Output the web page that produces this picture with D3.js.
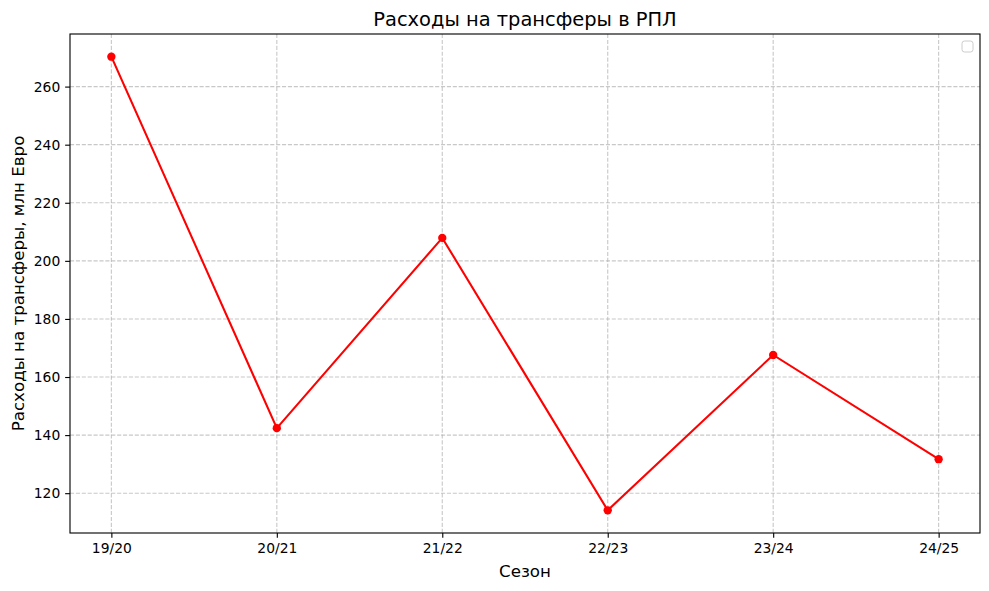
<!DOCTYPE html>
<html>
<head>
<meta charset="utf-8">
<script src="https://cdn.jsdelivr.net/npm/d3@7"></script>
<style>
body { margin: 0; background: #fff; }
text { font-family: "DejaVu Sans", sans-serif; }
</style>
</head>
<body>
<div id="vis-container"></div>
<script>
// data
var seasons = ["19/20", "20/21", "21/22", "22/23", "23/24", "24/25"];
var spending = [270.3, 142.4, 207.9, 114.1, 167.6, 131.7];
var yTicks = [120, 140, 160, 180, 200, 220, 240, 260];

var width = 989, height = 591;
var margin = { left: 70, top: 34, right: 9, bottom: 58 };
var plotW = width - margin.left - margin.right;
var plotH = height - margin.top - margin.bottom;
var pt = 100 / 72; // points to pixels

var svg = d3.select("#vis-container")
	.append("svg")
	.attr("width", width)
	.attr("height", height)
	.style("background-color", "#ffffff");

var plot = svg.append("g")
	.attr("transform", "translate(" + margin.left + "," + margin.top + ")");

// 5% margins like matplotlib
var x = d3.scaleLinear().domain([-0.25, seasons.length - 1 + 0.25]).range([0, plotW]);
var ymin = d3.min(spending), ymax = d3.max(spending);
var pad = (ymax - ymin) * 0.05;
var y = d3.scaleLinear().domain([ymin - pad, ymax + pad]).range([plotH, 0]);

// grid
var dash = (3.7 * 0.8 * pt) + "," + (1.6 * 0.8 * pt);
plot.append("g").selectAll("line").data(yTicks).enter().append("line")
	.attr("x1", 0).attr("x2", plotW)
	.attr("y1", function(d) { return y(d); })
	.attr("y2", function(d) { return y(d); })
	.attr("stroke", "#b0b0b0").attr("stroke-opacity", 0.7)
	.attr("stroke-dasharray", dash).attr("stroke-width", 0.8 * pt);

plot.append("g").selectAll("line").data(seasons).enter().append("line")
	.attr("y1", 0).attr("y2", plotH)
	.attr("x1", function(d, i) { return x(i); })
	.attr("x2", function(d, i) { return x(i); })
	.attr("stroke", "#b0b0b0").attr("stroke-opacity", 0.7)
	.attr("stroke-dasharray", dash).attr("stroke-width", 0.8 * pt);

// axes
var yaxis = d3.axisLeft(y).tickValues(yTicks).tickSize(3.5 * pt).tickPadding(3.5 * pt);
var yg = plot.append("g").call(yaxis);
yg.select(".domain").remove();
yg.selectAll("text").attr("font-size", 10 * pt).attr("fill", "#000");
yg.selectAll("line").attr("stroke", "#000").attr("stroke-width", 0.8 * pt);

var xaxis = d3.axisBottom(x).tickValues(d3.range(seasons.length))
	.tickFormat(function(d) { return seasons[d]; }).tickSize(3.5 * pt).tickPadding(3.5 * pt);
var xg = plot.append("g").attr("transform", "translate(0," + plotH + ")").call(xaxis);
xg.select(".domain").remove();
xg.selectAll("text").attr("font-size", 10 * pt).attr("fill", "#000");
xg.selectAll("line").attr("stroke", "#000").attr("stroke-width", 0.8 * pt);

// frame
plot.append("rect")
	.attr("width", plotW).attr("height", plotH)
	.attr("fill", "none").attr("stroke", "#000").attr("stroke-width", 0.8 * pt);

// line and markers
var line = d3.line()
	.x(function(d, i) { return x(i); })
	.y(function(d) { return y(d); });

plot.append("path")
	.attr("d", line(spending))
	.attr("fill", "none")
	.attr("stroke", "red")
	.attr("stroke-width", 1.5 * pt);

plot.append("g").selectAll("circle").data(spending).enter().append("circle")
	.attr("cx", function(d, i) { return x(i); })
	.attr("cy", function(d) { return y(d); })
	.attr("r", 3 * pt)
	.attr("fill", "red");

// empty legend box
plot.append("rect")
	.attr("x", plotW - 18).attr("y", 7)
	.attr("width", 11).attr("height", 11)
	.attr("rx", 2.5)
	.attr("fill", "#fff").attr("stroke", "#ccc").attr("stroke-width", 1);

// titles
svg.append("text")
	.attr("x", margin.left + plotW / 2).attr("y", 26)
	.attr("text-anchor", "middle").attr("font-size", 14 * pt)
	.text("Расходы на трансферы в РПЛ");

svg.append("text")
	.attr("x", margin.left + plotW / 2).attr("y", 577)
	.attr("text-anchor", "middle").attr("font-size", 12 * pt)
	.text("Сезон");

svg.append("text")
	.attr("transform", "translate(24," + (margin.top + plotH / 2) + ") rotate(-90)")
	.attr("text-anchor", "middle").attr("font-size", 12 * pt)
	.text("Расходы на трансферы, млн Евро");
</script>
</body>
</html>
